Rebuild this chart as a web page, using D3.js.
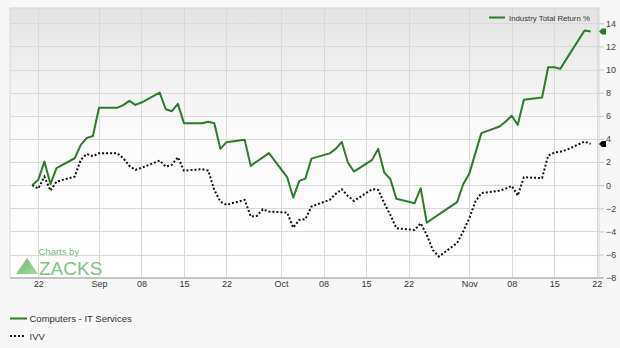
<!DOCTYPE html>
<html>
<head>
<meta charset="utf-8">
<script src="https://cdn.jsdelivr.net/npm/d3@7"></script>
<style>
  html, body { margin: 0; padding: 0; background: #f7f7f7; }
  svg { display: block; font-family: "Liberation Sans", Arial, sans-serif; }
</style>
</head>
<body>
<div id="chart"></div>
<script>
// Trading days shown on the chart
const dates = [
  "2023-08-21","2023-08-22","2023-08-23","2023-08-24","2023-08-25","2023-08-28","2023-08-29","2023-08-30","2023-08-31",
  "2023-09-01","2023-09-04","2023-09-05","2023-09-06","2023-09-07","2023-09-08","2023-09-11","2023-09-12","2023-09-13",
  "2023-09-14","2023-09-15","2023-09-18","2023-09-19","2023-09-20","2023-09-21","2023-09-22","2023-09-25","2023-09-26",
  "2023-09-27","2023-09-28","2023-09-29",
  "2023-10-02","2023-10-03","2023-10-04","2023-10-05","2023-10-06","2023-10-09","2023-10-10","2023-10-11","2023-10-12",
  "2023-10-13","2023-10-16","2023-10-17","2023-10-18","2023-10-19","2023-10-20","2023-10-23","2023-10-24","2023-10-25",
  "2023-10-26","2023-10-27","2023-10-30","2023-10-31",
  "2023-11-01","2023-11-02","2023-11-03","2023-11-06","2023-11-07","2023-11-08","2023-11-09","2023-11-10","2023-11-13",
  "2023-11-14","2023-11-15","2023-11-16","2023-11-17","2023-11-20","2023-11-21"
];

// Computers - IT Services (industry total return %)
const industry = [
  0, 0.46, 2.04, 0.1, 1.47, 2.33, 3.49, 4.09, 4.26,
  6.69, 6.69, 6.92, 7.29, 6.94, 7.15, 8.01, 6.57, 6.4, 7.03, 5.36, 5.36, 5.48, 5.36, 3.14, 3.72, 3.92, 1.67, 2.05, 2.4, 2.77,
  0.69, -1.07, 0.37, 0.57, 2.3, 2.75, 3.14, 3.74, 1.96, 1.18, 2.19, 3.14, 1.09, 0.54, -1.18, -1.56, -0.26, -3.24, -2.88, -2.52, -1.47, 0.08,
  0.98, 2.75, 4.5, 5.07, 5.5, 6.0, 5.22, 7.38, 7.58, 10.2, 10.2, 10.06, 10.9, 13.37, 13.29
];

// IVV
const ivv = [
  0, -0.29, 0.74, -0.47, 0.31, 0.74, 2.2, 2.7, 2.5,
  2.77, 2.77, 2.33, 1.67, 1.32, 1.5, 2.13, 1.61, 1.76, 2.42, 1.26, 1.38, 1.26, -0.41, -1.42, -1.7, -1.27, -2.71, -2.66, -2.08, -2.28,
  -2.37, -3.67, -3.0, -2.94, -1.85, -1.27, -0.75, -0.35, -0.93, -1.36, -0.35, -0.41, -1.56, -2.57, -3.72, -3.87, -3.29, -4.3, -5.6, -6.17, -5.0, -4.01,
  -2.86, -1.42, -0.69, -0.47, -0.3, -0.06, -0.9, 0.69, 0.61, 2.56, 2.82, 2.9, 3.05, 3.77, 3.57
];

const xTicks = ["2023-08-22","2023-09-01","2023-09-08","2023-09-15","2023-09-22","2023-10-01",
                "2023-10-08","2023-10-15","2023-10-22","2023-11-01","2023-11-08","2023-11-15","2023-11-22"];
const yTicks = [-8, -6, -4, -2, 0, 2, 4, 6, 8, 10, 12, 14];

const seriesNames = ["Computers - IT Services", "IVV"];
const topLegend = "Industry Total Return %";

const W = 620, H = 348;
const plot = { left: 10, right: 599, top: 8, bottom: 278 };
const green = "#2e7a2e";

const parse = d3.timeParse("%Y-%m-%d");

const svg = d3.select("#chart").append("svg")
  .attr("width", W)
  .attr("height", H);

svg.append("rect").attr("width", W).attr("height", H).attr("fill", "#f7f7f7");

// plot background gradient
const defs = svg.append("defs");
const grad = defs.append("linearGradient").attr("id", "bg").attr("x1", 0).attr("x2", 0).attr("y1", 0).attr("y2", 1);
grad.append("stop").attr("offset", "0%").attr("stop-color", "#e4e4e4");
grad.append("stop").attr("offset", "50%").attr("stop-color", "#fcfcfc");
grad.append("stop").attr("offset", "100%").attr("stop-color", "#ffffff");

const logoGrad = defs.append("linearGradient").attr("id", "logoG").attr("x1", 0).attr("x2", 1).attr("y1", 0).attr("y2", 1);
logoGrad.append("stop").attr("offset", "0%").attr("stop-color", "#6fb86f");
logoGrad.append("stop").attr("offset", "100%").attr("stop-color", "#a8d8a8");

svg.append("rect")
  .attr("x", plot.left).attr("y", plot.top)
  .attr("width", plot.right - plot.left).attr("height", plot.bottom - plot.top)
  .attr("fill", "url(#bg)")
  .attr("stroke", "#d6d6d6");

const x = d3.scaleTime()
  .domain([parse("2023-08-22"), parse("2023-11-22")])
  .range([38.3, 596.7]);

const y = d3.scaleLinear()
  .domain([-8, 14])
  .range([277.7, 23.3]);

// gridlines
svg.append("g").selectAll("line").data(yTicks.slice(1)).join("line")
  .attr("x1", plot.left).attr("x2", plot.right)
  .attr("y1", d => Math.round(y(d)) + 0.5).attr("y2", d => Math.round(y(d)) + 0.5)
  .attr("stroke", "#d9d9d9");

svg.append("g").selectAll("line").data(xTicks).join("line")
  .attr("x1", d => Math.round(x(parse(d))) + 0.5).attr("x2", d => Math.round(x(parse(d))) + 0.5)
  .attr("y1", plot.top).attr("y2", plot.bottom)
  .attr("stroke", "#d9d9d9");

// x axis
const fmt = d => d.getDate() === 1 ? d3.timeFormat("%b")(d) : d3.timeFormat("%d")(d);
const xAxis = svg.append("g")
  .attr("transform", `translate(0,${plot.bottom})`)
  .call(d3.axisBottom(x).tickValues(xTicks.map(parse)).tickFormat(fmt).tickSize(0).tickPadding(3));
xAxis.select(".domain").remove();
xAxis.selectAll("text").attr("font-size", 9).attr("fill", "#333").attr("font-family", "Liberation Sans, Arial, sans-serif");
svg.append("line")
  .attr("x1", plot.left).attr("x2", plot.right + 5)
  .attr("y1", plot.bottom).attr("y2", plot.bottom)
  .attr("stroke", "#c4c4c4").attr("stroke-width", 2);

// y axis (right)
const yAxis = svg.append("g")
  .attr("transform", `translate(${plot.right},0)`)
  .call(d3.axisRight(y).tickValues(yTicks).tickSize(5).tickPadding(2));
yAxis.select(".domain").remove();
yAxis.selectAll("line").attr("stroke", "#c8c8c8");
yAxis.selectAll("text").attr("font-size", 9).attr("fill", "#444").attr("font-family", "Liberation Sans, Arial, sans-serif");

// Zacks logo
const logo = svg.append("g");
logo.append("path")
  .attr("d", "M27,258 L38,274 L16,274 Z")
  .attr("fill", "url(#logoG)");
logo.append("text").attr("x", 38.5).attr("y", 255).attr("font-size", 9.5).attr("fill", "#80b880").text("Charts by");
logo.append("text").attr("x", 39).attr("y", 274.5).attr("font-size", 19).attr("fill", "#86bd86").text("ZACKS");

// lines
const rowsInd = dates.map((d, i) => ({ date: parse(d), v: industry[i] }));
const rowsIvv = dates.map((d, i) => ({ date: parse(d), v: ivv[i] }));
const line = d3.line().x(d => x(d.date)).y(d => y(d.v));

svg.append("path").datum(rowsIvv)
  .attr("fill", "none").attr("stroke", "#111").attr("stroke-width", 2)
  .attr("stroke-dasharray", "2,2").attr("d", line);

svg.append("path").datum(rowsInd)
  .attr("fill", "none").attr("stroke", green).attr("stroke-width", 2)
  .attr("stroke-linejoin", "round").attr("d", line);

// last value markers on the axis
const marker = "M-3,0 L0,-3 L4,-3 L4,3 L0,3 Z";
svg.append("path").attr("d", marker).attr("fill", green)
  .attr("transform", `translate(602,${y(industry[industry.length - 1])})`);
svg.append("path").attr("d", marker).attr("fill", "#000")
  .attr("transform", `translate(602,${y(ivv[ivv.length - 1])})`);

// top legend
svg.append("line").attr("x1", 489).attr("x2", 505).attr("y1", 17.5).attr("y2", 17.5)
  .attr("stroke", green).attr("stroke-width", 2);
svg.append("text").attr("x", 509).attr("y", 20.5).attr("font-size", 7.8).attr("fill", "#333").text(topLegend);

// bottom legend
const leg = svg.append("g");
leg.append("line").attr("x1", 10).attr("x2", 27).attr("y1", 318.5).attr("y2", 318.5)
  .attr("stroke", green).attr("stroke-width", 2);
leg.append("text").attr("x", 29.5).attr("y", 322).attr("font-size", 9.5).attr("fill", "#333").text(seriesNames[0]);
leg.append("line").attr("x1", 10).attr("x2", 26).attr("y1", 336).attr("y2", 336)
  .attr("stroke", "#111").attr("stroke-width", 2).attr("stroke-dasharray", "2,2");
leg.append("text").attr("x", 29.5).attr("y", 339.5).attr("font-size", 9.5).attr("fill", "#333").text(seriesNames[1]);
</script>
</body>
</html>
